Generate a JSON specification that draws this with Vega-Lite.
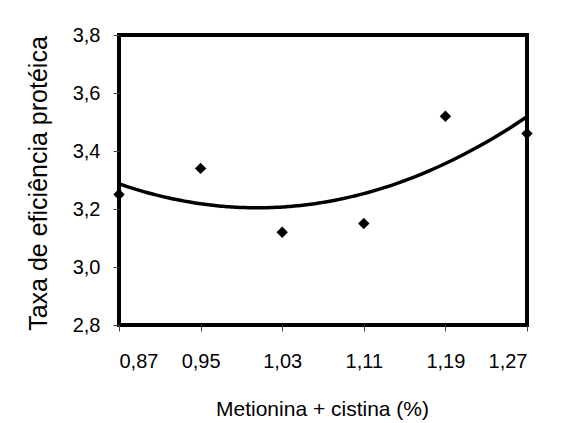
{
  "$schema": "https://vega.github.io/schema/vega-lite/v6.json",
  "autosize": "none",
  "width": 408,
  "height": 290,
  "padding": {"left": 119, "top": 35, "right": 38, "bottom": 98},
  "background": "white",
  "config": {
    "view": {"stroke": "black", "strokeWidth": 4},
    "font": "Liberation Sans"
  },
  "data": {
    "values": [
      {"x": 0.87, "y": 3.25},
      {"x": 0.95, "y": 3.34},
      {"x": 1.03, "y": 3.12},
      {"x": 1.11, "y": 3.15},
      {"x": 1.19, "y": 3.52},
      {"x": 1.27, "y": 3.46}
    ]
  },
  "encoding": {
    "x": {
      "field": "x",
      "type": "quantitative",
      "scale": {"domain": [0.87, 1.27], "nice": false, "zero": false},
      "axis": {
        "title": "Metionina + cistina (%)",
        "values": [0.87, 0.95, 1.03, 1.11, 1.19, 1.27],
        "labelExpr": "replace(format(datum.value, '.2f'), '.', ',')",
        "grid": false,
        "domain": false,
        "ticks": true,
        "tickColor": "#444",
        "tickWidth": 1,
        "tickSize": 6,
        "labelFont": "Liberation Sans",
        "labelFontSize": 20,
        "labelColor": "black",
        "labelPadding": 20,
        "titleFont": "Liberation Sans",
        "titleFontSize": 21,
        "titleFontWeight": "normal",
        "titleColor": "black",
        "titleX": 203,
        "titleY": 90,
        "titleAlign": "center",
        "titleBaseline": "alphabetic"
      }
    },
    "y": {
      "field": "y",
      "type": "quantitative",
      "scale": {"domain": [2.8, 3.8], "nice": false, "zero": false},
      "axis": {
        "title": "Taxa de eficiência protéica",
        "values": [2.8, 3.0, 3.2, 3.4, 3.6, 3.8],
        "labelExpr": "replace(format(datum.value, '.1f'), '.', ',')",
        "grid": false,
        "domain": false,
        "ticks": true,
        "tickColor": "#444",
        "tickWidth": 1,
        "tickSize": 6,
        "labelFont": "Liberation Sans",
        "labelFontSize": 20,
        "labelColor": "black",
        "labelPadding": 13,
        "titleFont": "Liberation Sans",
        "titleFontSize": 25,
        "titleFontWeight": "normal",
        "titleColor": "black",
        "titleX": -73,
        "titleY": 148,
        "titleAngle": -90,
        "titleAlign": "center",
        "titleBaseline": "alphabetic"
      }
    }
  },
  "layer": [
    {
      "transform": [
        {"regression": "y", "on": "x", "method": "poly", "order": 2, "extent": [0.87, 1.27]}
      ],
      "mark": {"type": "line", "color": "black", "strokeWidth": 3.5, "interpolate": "monotone"}
    },
    {
      "mark": {"type": "point", "shape": "diamond", "filled": true, "color": "black", "size": 130, "opacity": 1}
    }
  ]
}
